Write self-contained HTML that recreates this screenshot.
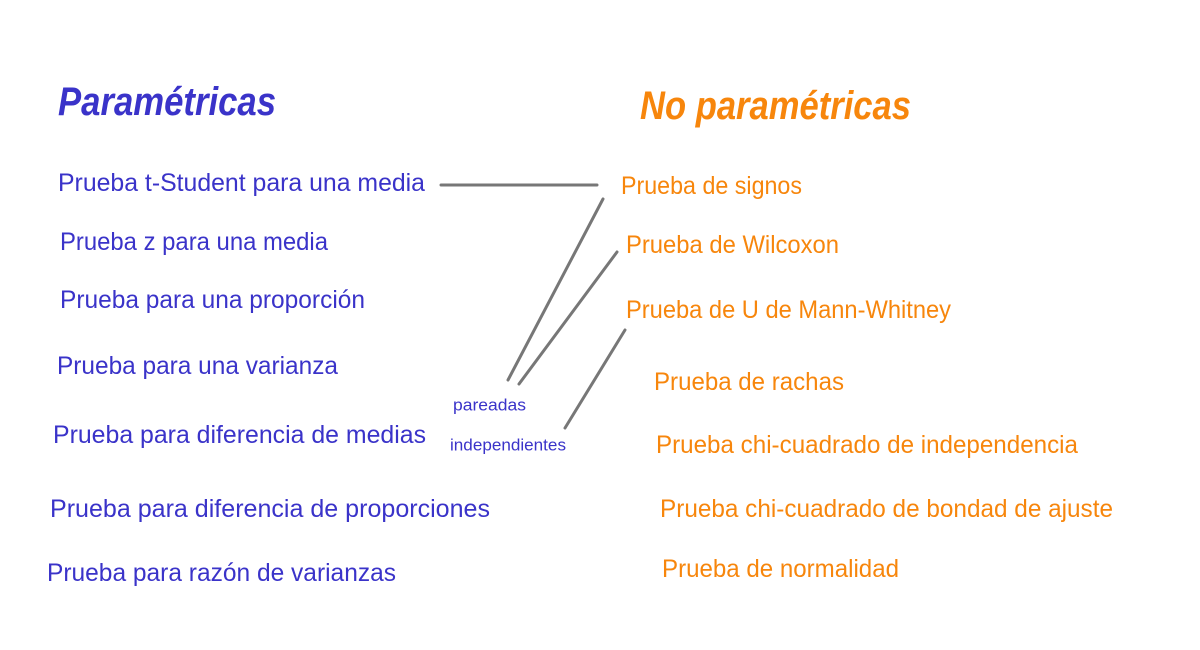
<!DOCTYPE html>
<html><head><meta charset="utf-8"><style>
html,body{margin:0;padding:0;background:#fff;}
svg{display:block;}
text{font-family:"Liberation Sans",sans-serif;dominant-baseline:central;}
.b{fill:#3a33c9;font-size:25px;}
.o{fill:#f7860c;font-size:25px;}
.s{fill:#3a33c9;font-size:17px;}
</style></head><body>
<svg width="1200" height="650" viewBox="0 0 1200 650">
<text x="58" y="102" class="b" style="font-size:40px;font-weight:bold;font-style:italic" textLength="218" lengthAdjust="spacingAndGlyphs">Paramétricas</text>
<text x="640" y="106" class="o" style="font-size:40px;font-weight:bold;font-style:italic" textLength="271" lengthAdjust="spacingAndGlyphs">No paramétricas</text>

<text x="58" y="183" class="b" textLength="367" lengthAdjust="spacingAndGlyphs">Prueba t-Student para una media</text>
<text x="60" y="242" class="b" textLength="268" lengthAdjust="spacingAndGlyphs">Prueba z para una media</text>
<text x="60" y="300" class="b" textLength="305" lengthAdjust="spacingAndGlyphs">Prueba para una proporción</text>
<text x="57" y="366" class="b" textLength="281" lengthAdjust="spacingAndGlyphs">Prueba para una varianza</text>
<text x="53" y="435" class="b" textLength="373" lengthAdjust="spacingAndGlyphs">Prueba para diferencia de medias</text>
<text x="50" y="509" class="b" textLength="440" lengthAdjust="spacingAndGlyphs">Prueba para diferencia de proporciones</text>
<text x="47" y="573" class="b" textLength="349" lengthAdjust="spacingAndGlyphs">Prueba para razón de varianzas</text>

<text x="453" y="405" class="s" textLength="73" lengthAdjust="spacingAndGlyphs">pareadas</text>
<text x="450" y="445" class="s" textLength="116" lengthAdjust="spacingAndGlyphs">independientes</text>

<text x="621" y="186" class="o" textLength="181" lengthAdjust="spacingAndGlyphs">Prueba de signos</text>
<text x="626" y="245" class="o" textLength="213" lengthAdjust="spacingAndGlyphs">Prueba de Wilcoxon</text>
<text x="626" y="310" class="o" textLength="325" lengthAdjust="spacingAndGlyphs">Prueba de U de Mann-Whitney</text>
<text x="654" y="382" class="o" textLength="190" lengthAdjust="spacingAndGlyphs">Prueba de rachas</text>
<text x="656" y="445" class="o" textLength="422" lengthAdjust="spacingAndGlyphs">Prueba chi-cuadrado de independencia</text>
<text x="660" y="509" class="o" textLength="453" lengthAdjust="spacingAndGlyphs">Prueba chi-cuadrado de bondad de ajuste</text>
<text x="662" y="569" class="o" textLength="237" lengthAdjust="spacingAndGlyphs">Prueba de normalidad</text>

<g stroke="#777" stroke-width="3" stroke-linecap="round" fill="none">
<line x1="441" y1="185" x2="597" y2="185"/>
<line x1="603" y1="199" x2="508" y2="380"/>
<line x1="617" y1="252" x2="519" y2="384"/>
<line x1="625" y1="330" x2="565" y2="428"/>
</g>
</svg>
</body></html>
